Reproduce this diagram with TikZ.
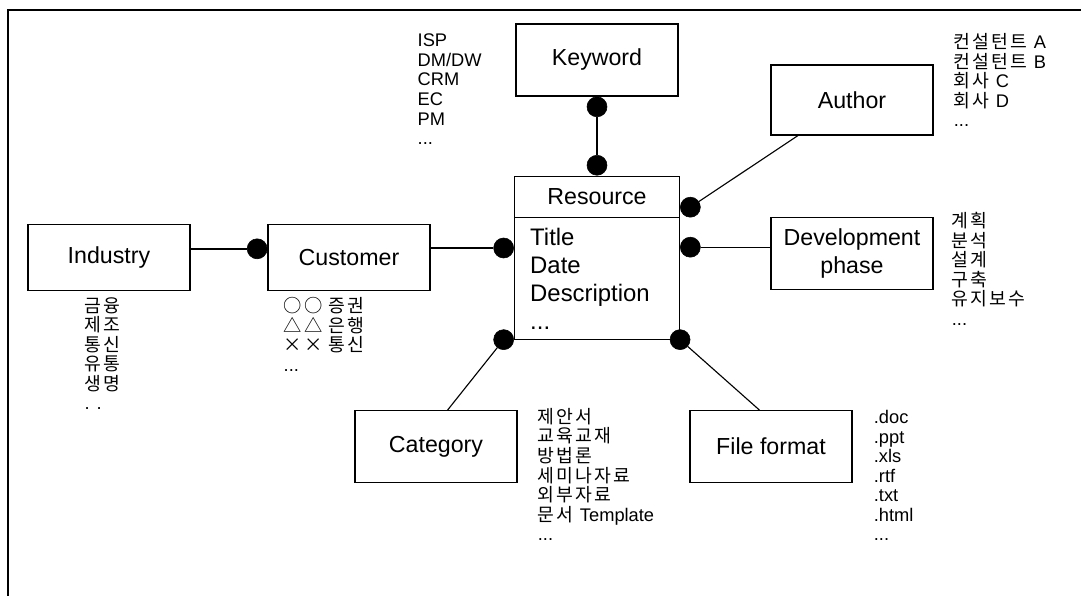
\documentclass[tikz,border=0pt]{standalone}
\usepackage{fontspec}
\setmainfont{Liberation Sans}
\newfontfamily\kr[LetterSpace=12]{Noto Sans CJK KR}
\usepackage{tikz}
\usetikzlibrary{positioning}
\tikzset{
block/.style = {draw, fill=white, rectangle, line width=0.8pt, minimum width=4.05cm, minimum height=1.8cm, font=\fontsize{16.5}{20}\selectfont},
dot/.style = {draw, fill=black, circle, inner sep=0pt, minimum size=0.5cm},
items/.style = {anchor=north west, inner sep=0pt, align=left, font=\fontsize{13}{13.9}\selectfont},
kitems/.style = {items, font=\kr\fontsize{13}{13.9}\selectfont},
link/.style = {line width=0.8pt}
}

\begin{document}
\begin{tikzpicture}[node distance=6cm]
    \useasboundingbox (0,0) rectangle (27.025,-14.9);
    \draw [line width=2pt] (27.025,-0.25) -- (0.2,-0.25) -- (0.2,-14.9);

    \node [block, minimum height=1.65cm] (ind) at (2.725,-6.44) {Industry};
    \node [block, minimum height=1.65cm, right of=ind] (cust) {Customer};
    \node [block, minimum width=4.125cm, minimum height=4.075cm, right of=cust, node distance=6.2cm] (res) {};
    \node [block, above of=res, node distance=4.94cm] (kw) {Keyword};
    \node [block, align=center, right of=res, node distance=6.375cm, yshift=0.1cm] (dev) {Development\\phase};
    \node [block, minimum height=1.75cm, above of=dev, node distance=3.84cm] (author) {Author};
    \node [block, below of=res, node distance=4.725cm, xshift=-4.025cm] (cat) {Category};
    \node [block, below of=res, node distance=4.725cm, xshift=4.35cm] (file) {File format};

    % resource header and attributes
    \node [anchor=north, inner sep=0pt, minimum height=1.025cm, font=\fontsize{16.5}{20}\selectfont] (reshead) at (res.north) {Resource};
    \draw [link] (res.west |- reshead.south) -- (res.east |- reshead.south);
    \node [anchor=north west, align=left, inner xsep=0.4cm, inner ysep=0.26cm, font=\fontsize{17}{20}\selectfont] (resattr) at (res.west |- reshead.south) {Title\\Date\\Description\\...};

    \node [dot, anchor=north] (kwdot) at (kw.south) {};
    \node [dot, anchor=south] (restop) at (res.north) {};
    \node [dot, anchor=east] (custdot) at ([yshift=0.22cm]cust.west) {};
    \node [dot, anchor=east] (resleft) at ([yshift=0.24cm]res.west) {};
    \node [dot, anchor=west] (resauth) at ([yshift=1.26cm]res.east) {};
    \node [dot, anchor=west] (resdev) at ([yshift=0.26cm]res.east) {};
    \node [dot, anchor=east] (rescat) at (res.south west) {};
    \node [dot] (resfile) at (res.south east) {};

    \draw [link, line width=1.2pt] (ind.east |- custdot) -- (custdot);
    \draw [link] (cust.east |- resleft) -- (resleft);
    \draw [link] (kwdot) -- (restop);
    \draw [link] (resauth) -- ([xshift=-1.35cm]author.south);
    \draw [link] (resdev) -- (dev.west |- resdev);
    \draw [link] (rescat) -- ([xshift=0.29cm]cat.north);
    \draw [link] (resfile) -- ([xshift=-0.29cm]file.north);

    % value lists
    \node [items] (kwlist) at ([xshift=-2.45cm, yshift=-0.26cm]kw.north west) {ISP\\DM/DW\\CRM\\EC\\PM\\...};
    \node [kitems] (authlist) at ([xshift=0.5cm, yshift=0.78cm]author.north east) {컨설턴트 {\rmfamily A}\\컨설턴트 {\rmfamily B}\\회사 {\rmfamily C}\\회사 {\rmfamily D}\\{\rmfamily ...}};
    \node [kitems] (devlist) at ([xshift=0.45cm, yshift=0.125cm]dev.north east) {계획\\분석\\설계\\구축\\유지보수\\{\rmfamily ...}};
    \node [kitems] (indlist) at ([xshift=1.425cm, yshift=-0.15cm]ind.south west) {금융\\제조\\통신\\유통\\생명\\{\rmfamily . .}};
    \node [kitems] (custlist) at ([xshift=0.4cm, yshift=-0.15cm]cust.south west) {○○ 증권\\△△ 은행\\×× 통신\\{\rmfamily ...}};
    \node [kitems] (catlist) at ([xshift=0.5cm, yshift=0.05cm]cat.north east) {제안서\\교육교재\\방법론\\세미나자료\\외부자료\\문서 {\rmfamily Template}\\{\rmfamily ...}};
    \node [items] (filelist) at ([xshift=0.525cm]file.north east) {.doc\\.ppt\\.xls\\.rtf\\.txt\\.html\\...};
\end{tikzpicture}
\end{document}
